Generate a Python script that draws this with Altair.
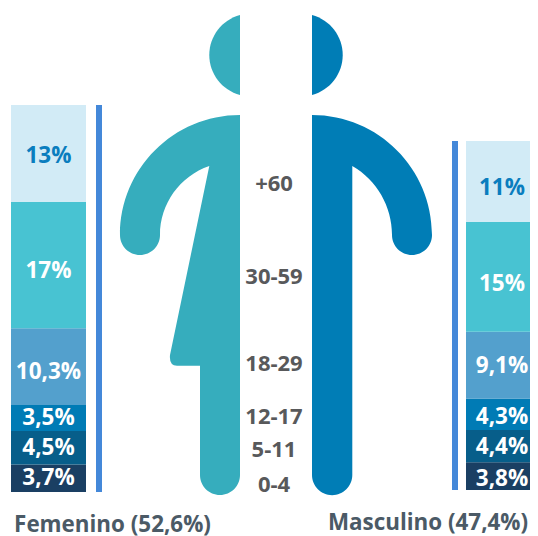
import altair as alt
import pandas as pd

groups = ["0-4", "5-11", "12-17", "18-29", "30-59", "+60"]
female = [3.7, 4.5, 3.5, 10.3, 17, 13]
male = [3.8, 4.4, 4.3, 9.1, 15, 11]
female_labels = ["3,7%", "4,5%", "3,5%", "10,3%", "17%", "13%"]
male_labels = ["3,8%", "4,4%", "4,3%", "9,1%", "15%", "11%"]
colors = ["#1A3F63", "#075E8A", "#007BB5", "#53A0CD", "#48C3D2", "#D2EBF6"]
text_colors = ["#FFFFFF"] * 5 + ["#0A7DBE"]
female_title = "Femenino (52,6%)"
male_title = "Masculino (47,4%)"

W, H = 522, 528
OX, OY = 8, 8  # page margin


def side(vals, labels, bottom_px, ppp, bar_x, rule_x, label_x, label_y):
    d = pd.DataFrame({"group": groups, "v": vals, "label": labels, "tc": text_colors})
    d["y0"] = d["v"].cumsum() - d["v"]
    d["y1"] = d["v"].cumsum()
    d["lab"] = [(bottom_px - y) / ppp for y in label_y]
    b = bottom_px - OY
    sc = alt.Scale(domain=[-(H - b) / ppp, b / ppp], nice=False, zero=False)
    bars = alt.Chart(d).mark_rect().encode(
        x=alt.value(bar_x[0] - OX), x2=alt.value(bar_x[1] - OX),
        y=alt.Y("y0:Q", scale=sc, axis=None), y2="y1:Q",
        color=alt.Color("group:N", scale=alt.Scale(domain=groups, range=colors), legend=None),
    )
    rule = alt.Chart(pd.DataFrame({"a": [0.0], "b": [float(sum(vals))]})).mark_rect(color="#4488D9").encode(
        x=alt.value(rule_x[0] - OX), x2=alt.value(rule_x[1] - OX),
        y=alt.Y("a:Q", scale=sc, axis=None), y2="b:Q",
    )
    text = alt.Chart(d).mark_text(font="Open Sans", fontWeight=700, fontSize=22.5).encode(
        x=alt.value(label_x - OX),
        y=alt.Y("lab:Q", scale=sc, axis=None),
        text="label:N",
        color=alt.Color("tc:N", scale=None),
    )
    return [bars, rule, text]


def shape(path, color):
    return alt.Chart(pd.DataFrame({"k": [0]})).mark_point(
        shape=path, size=4, filled=True, fill=color, opacity=1, strokeWidth=0
    ).encode(x=alt.value(-OX), y=alt.value(-OY))


f_head = "M240 15A41.4 41.4 0 0 0 240 95Z"
m_head = "M312 15A41.4 41.4 0 0 1 312 95Z"
f_body = ("M240 115A120 120 0 0 0 120 235A20 20 0 0 0 160 235A73 73 0 0 1 209.3 166"
          "L170 355Q169 365.7 177 365.7L200 365.7L200 475A20 20 0 0 0 240 475Z")
m_body = ("M312 115A120 120 0 0 1 432 235A20 20 0 0 1 392 235A79.5 79.5 0 0 0 352.3 166"
          "L352.3 475A20 20 0 0 1 312 475Z")

teal, blue = "#36ADBD", "#007DB6"

age_df = pd.DataFrame({"group": groups, "py": [v - OY for v in [485, 450, 417, 364, 277, 184]]})
ages = alt.Chart(age_df).mark_text(
    font="Open Sans", fontWeight=700, fontSize=22, color="#58595B"
).encode(
    x=alt.value(274 - OX),
    y=alt.Y("py:Q", scale=None),
    text="group:N",
)

title_df = pd.DataFrame({
    "t": [female_title, male_title],
    "px": [112.5 - OX, 428 - OX],
    "py": [525 - OY, 522.5 - OY],
})
titles = alt.Chart(title_df).mark_text(
    font="Open Sans", fontWeight=700, fontSize=22.4, color="#4B5A66"
).encode(
    x=alt.X("px:Q", scale=None),
    y=alt.Y("py:Q", scale=None),
    text="t:N",
)

layers = (
    side(female, female_labels, 492, 7.44, (11, 86), (96, 102), 48.5, [478, 448, 418, 372, 271, 156])
    + side(male, male_labels, 490, 7.33, (466, 538), (452, 458), 502, [479, 447, 417, 366, 283.7, 187.7])
    + [shape(f_head, teal), shape(m_head, blue), shape(f_body, teal), shape(m_body, blue), ages, titles]
)

chart = (
    alt.layer(*layers)
    .resolve_scale(x="independent", y="independent", color="independent")
    .properties(width=W, height=H, padding=0, autosize=alt.AutoSizeParams(type="none"), background="#FFFFFF")
    .configure_view(stroke=None)
)

chart.save("out.html", embed_options={"renderer": "svg", "actions": False})
